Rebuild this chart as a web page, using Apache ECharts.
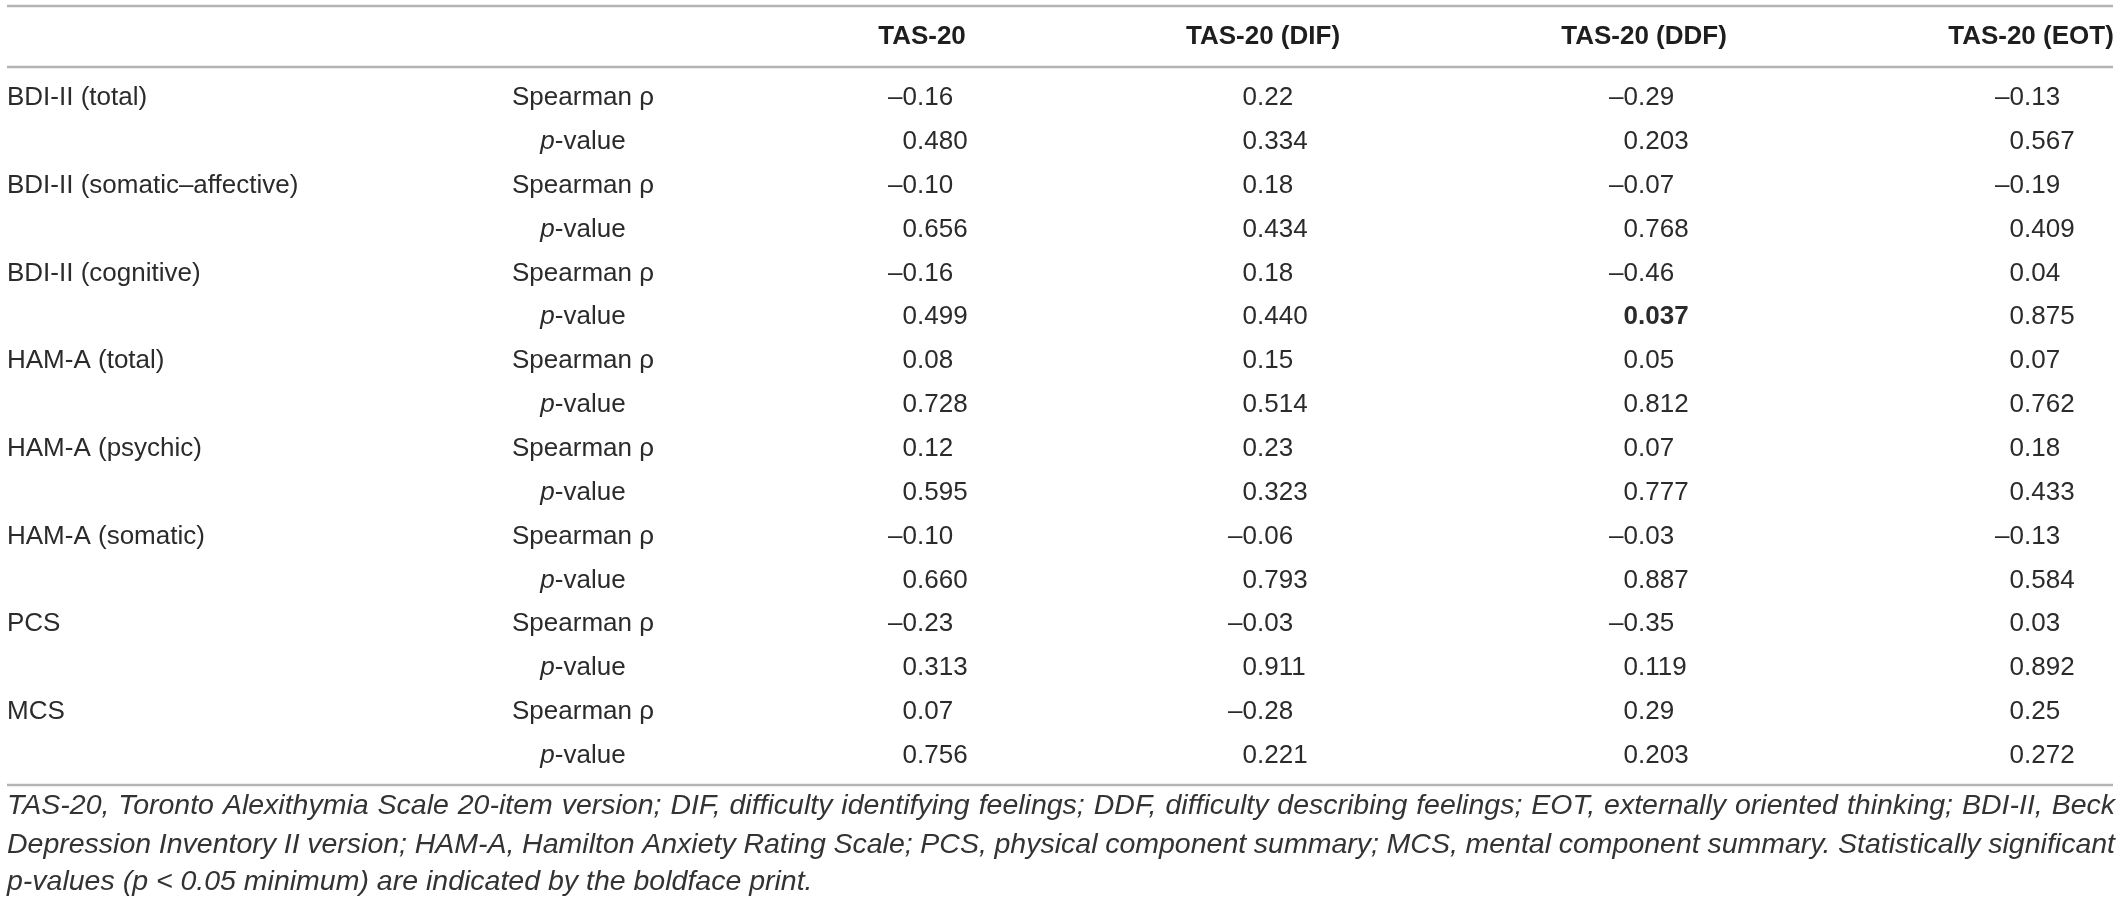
<!DOCTYPE html>
<html>
<head>
<meta charset="utf-8">
<title>TAS-20 correlations</title>
<script src="https://cdn.jsdelivr.net/npm/echarts@6/dist/echarts.min.js"></script>
<style>
  html, body { margin: 0; padding: 0; background: #fff; }
  #main { width: 2121px; height: 905px; }
</style>
</head>
<body>
<div id="main"></div>
<script>
var colHeaders = ['TAS-20', 'TAS-20 (DIF)', 'TAS-20 (DDF)', 'TAS-20 (EOT)'];
var measures = ['BDI-II (total)', 'BDI-II (somatic–affective)', 'BDI-II (cognitive)',
  'HAM-A (total)', 'HAM-A (psychic)', 'HAM-A (somatic)', 'PCS', 'MCS'];
var statLabels = ['Spearman ρ', 'p-value'];

// Spearman rho per measure
var rhoTAS = [-0.16, -0.10, -0.16, 0.08, 0.12, -0.10, -0.23, 0.07];
var rhoDIF = [0.22, 0.18, 0.18, 0.15, 0.23, -0.06, -0.03, -0.28];
var rhoDDF = [-0.29, -0.07, -0.46, 0.05, 0.07, -0.03, -0.35, 0.29];
var rhoEOT = [-0.13, -0.19, 0.04, 0.07, 0.18, -0.13, 0.03, 0.25];
// p-values per measure
var pTAS = [0.480, 0.656, 0.499, 0.728, 0.595, 0.660, 0.313, 0.756];
var pDIF = [0.334, 0.434, 0.440, 0.514, 0.323, 0.793, 0.911, 0.221];
var pDDF = [0.203, 0.768, 0.037, 0.812, 0.777, 0.887, 0.119, 0.203];
var pEOT = [0.567, 0.409, 0.875, 0.762, 0.433, 0.584, 0.892, 0.272];

var footnoteLines = [
  'TAS-20, Toronto Alexithymia Scale 20-item version; DIF, difficulty identifying feelings; DDF, difficulty describing feelings; EOT, externally oriented thinking; BDI-II, Beck',
  'Depression Inventory II version; HAM-A, Hamilton Anxiety Rating Scale; PCS, physical component summary; MCS, mental component summary. Statistically significant',
  'p-values (p < 0.05 minimum) are indicated by the boldface print.'
];

// ---- layout ----
var W = 2121;
var ruleLeft = 7, ruleRight = 2113;
var ruleY = [6, 67, 785];
var headerX = [922, 1263, 1644, 2031];   // header centres
var decimalX = [917, 1257, 1638, 2024];  // decimal point of each column
var nameX = 7, statX = 583;
var rowTop = 76, rowH = 43.86;
var footY = [806, 845, 882];
var FONT = '"Liberation Sans", Arial, Helvetica, sans-serif';
var textColor = '#2b2b2b';

var rhoCols = [rhoTAS, rhoDIF, rhoDDF, rhoEOT];
var pCols = [pTAS, pDIF, pDDF, pEOT];
var nRows = measures.length * 2;
var rowKeys = [];
for (var r = 0; r < nRows; r++) rowKeys.push('r' + r);

function fmt(v, digits) {
  return (v < 0 ? '–' : '') + Math.abs(v).toFixed(digits);
}

// cells: [col, row], with text kept in a side list
var cells = [];
var cellData = [];
for (var c = 0; c < 4; c++) {
  for (var m = 0; m < measures.length; m++) {
    cells.push({ text: fmt(rhoCols[c][m], 2), bold: false });
    cellData.push([c, m * 2]);
    cells.push({ text: fmt(pCols[c][m], 3), bold: pCols[c][m] < 0.05 });
    cellData.push([c, m * 2 + 1]);
  }
}
var labelData = [];
for (var m2 = 0; m2 < measures.length; m2++) {
  labelData.push([0, m2 * 2]);
  labelData.push([1, m2 * 2 + 1]);
}

function renderCell(params, api) {
  var cell = cells[params.dataIndex];
  var col = api.value(0);
  var pt = api.coord([decimalX[col], api.value(1)]);
  var parts = cell.text.split('.');
  var st = {
    fontSize: 26, fontFamily: FONT, fill: textColor,
    fontWeight: cell.bold ? 'bold' : 'normal', verticalAlign: 'middle'
  };
  return {
    type: 'group',
    children: [
      { type: 'text', style: echarts.util.extend({ text: parts[0], x: pt[0], y: pt[1], align: 'right' }, st) },
      { type: 'text', style: echarts.util.extend({ text: '.' + parts[1], x: pt[0], y: pt[1], align: 'left' }, st) }
    ]
  };
}

function renderLabel(params, api) {
  var row = api.value(1);
  var m = Math.floor(row / 2);
  var pt = api.coord([0, row]);
  var kids = [];
  if (row % 2 === 0) {
    kids.push({ type: 'text', style: { text: measures[m], x: nameX, y: pt[1], align: 'left', verticalAlign: 'middle',
      fontSize: 26, fontFamily: FONT, fill: textColor } });
    kids.push({ type: 'text', style: { text: statLabels[0], x: statX, y: pt[1], align: 'center', verticalAlign: 'middle',
      fontSize: 26, fontFamily: FONT, fill: textColor } });
  } else {
    kids.push({ type: 'text', style: { text: '{i|p}-value', x: statX, y: pt[1], align: 'center', verticalAlign: 'middle',
      fontSize: 26, fontFamily: FONT, fill: textColor,
      rich: { i: { fontStyle: 'italic', fontSize: 26, fontFamily: FONT, fill: textColor } } } });
  }
  return { type: 'group', children: kids };
}

function renderHeader(params, api) {
  var col = api.value(0);
  var pt = api.coord([headerX[col], 0]);
  return { type: 'text', style: { text: colHeaders[col], x: pt[0], y: pt[1], align: 'center', verticalAlign: 'middle',
    fontSize: 26, fontWeight: 'bold', fontFamily: FONT, fill: '#1e1e1e' } };
}

// justified footnote lines via rich-text spacers
var footFont = 'italic 28.5px ' + FONT;
var measureCtx = document.createElement('canvas').getContext('2d');
measureCtx.font = footFont;
function justify(line, width, idx) {
  var words = line.split(' ');
  var sum = 0;
  words.forEach(function (w) { sum += measureCtx.measureText(w).width; });
  var gap = (width - sum) / (words.length - 1);
  var rich = {};
  var key = 'g' + idx;
  rich[key] = { width: gap, fontSize: 28.5, fontStyle: 'italic', fontFamily: FONT };
  return { text: words.join('{' + key + '| }'), rich: rich };
}
var footElems = footnoteLines.map(function (line, i) {
  var style = { x: ruleLeft, y: footY[i], fontSize: 28.5, fontStyle: 'italic', fontFamily: FONT,
    fill: '#333', verticalAlign: 'middle', align: 'left' };
  if (i < footnoteLines.length - 1) {
    var j = justify(line, 2115 - ruleLeft, i);
    style.text = j.text; style.rich = j.rich;
  } else {
    style.text = line;
  }
  return { type: 'text', style: style };
});
var ruleElems = ruleY.map(function (y) {
  return { type: 'line', shape: { x1: ruleLeft, y1: y, x2: ruleRight, y2: y },
    style: { stroke: '#b4b4b4', lineWidth: 2.5 } };
});

var chart = echarts.init(document.getElementById('main'));
var option = {
  animation: false,
  backgroundColor: '#fff',
  grid: [
    { left: 0, width: W, top: ruleY[0], height: ruleY[1] - ruleY[0] },
    { left: 0, width: W, top: rowTop, height: rowH * nRows }
  ],
  xAxis: [
    { type: 'value', gridIndex: 0, min: 0, max: W, show: false },
    { type: 'value', gridIndex: 1, min: 0, max: W, show: false }
  ],
  yAxis: [
    { type: 'category', gridIndex: 0, data: ['header'], show: false },
    { type: 'category', gridIndex: 1, data: rowKeys, inverse: true, show: false }
  ],
  series: [
    { type: 'custom', name: 'header', xAxisIndex: 0, yAxisIndex: 0,
      data: colHeaders.map(function (h, i) { return [i, 0]; }), renderItem: renderHeader },
    { type: 'custom', name: 'labels', xAxisIndex: 1, yAxisIndex: 1, data: labelData, renderItem: renderLabel },
    { type: 'custom', name: 'values', xAxisIndex: 1, yAxisIndex: 1, data: cellData, renderItem: renderCell }
  ],
  graphic: ruleElems.concat(footElems)
};
chart.setOption(option);
</script>
</body>
</html>
